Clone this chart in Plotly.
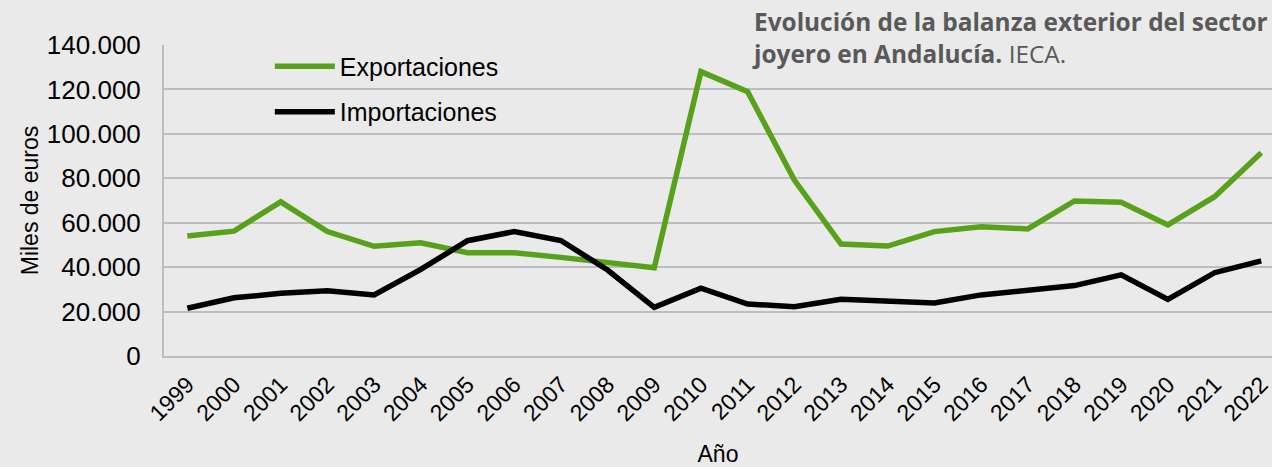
import plotly.graph_objects as go

years = [str(y) for y in range(1999, 2023)]
exportaciones = [54000, 56200, 69400, 56000, 49400, 51000, 46500, 46500, 44400, 42300, 39700,
                 128000, 119000, 79200, 50400, 49500, 56000, 58200, 57200, 69800, 69200, 59000,
                 71700, 91500]
importaciones = [21500, 26200, 28200, 29400, 27500, 39000, 51900, 56000, 52000, 38700, 21900,
                 30500, 23400, 22200, 25500, 24500, 23900, 27500, 29300, 31700, 36500, 25500,
                 37500, 42800]
y_ticks = [0, 20000, 40000, 60000, 80000, 100000, 120000, 140000]

fig = go.Figure()
fig.add_trace(go.Scatter(x=years, y=exportaciones, mode="lines", name="Exportaciones",
                         line=dict(color="#58A11B", width=5.5), legendgroup="a"))
fig.add_trace(go.Scatter(x=years, y=importaciones, mode="lines", name="Importaciones",
                         line=dict(color="#000000", width=5.5), legendgroup="b"))

fig.update_layout(
    width=1272, height=467,
    paper_bgcolor="#EAEAEA", plot_bgcolor="#EAEAEA",
    margin=dict(l=164, r=0, t=45, b=111, autoexpand=False),
    separators=",.",
    font=dict(family="Liberation Sans, Arial, sans-serif", color="#000000", size=20),
    legend=dict(x=0.0955, y=1.005, xanchor="left", yanchor="top", bgcolor="rgba(0,0,0,0)",
                font=dict(size=25), tracegroupgap=10, traceorder="grouped",
                itemwidth=60),
    xaxis=dict(type="category", range=[-0.5, 23.23], tickangle=-45, automargin=False,
               tickfont=dict(size=23), showgrid=False, showline=True,
               linecolor="#BDBDBD", linewidth=2, ticks="",
               title=dict(text="Año", font=dict(size=23), standoff=24),
               ticklabelstandoff=4),
    yaxis=dict(range=[0, 140000], tickvals=y_ticks, tickformat=",d", automargin=False,
               tickfont=dict(size=26), showgrid=True, gridcolor="#BDBDBD", gridwidth=2,
               showline=True, linecolor="#BDBDBD", linewidth=2, zeroline=False,
               ticks="", ticklabelstandoff=16,
               title=dict(text="Miles de euros", font=dict(size=23), standoff=2)),
)

fig.add_annotation(
    xref="paper", yref="paper", x=(750 - 164) / (1272 - 164), y=1.0 + 42 / 311,
    xanchor="left", yanchor="top", align="left", showarrow=False,
    text="<b>Evolución de la balanza exterior del sector</b><br><b>joyero en Andalucía.</b> IECA.",
    font=dict(family="Open Sans, sans-serif", size=24.4, color="#595959"),
)

fig.write_html("out.html", config={"displayModeBar": False},
               post_script="document.body.style.margin='0';")
